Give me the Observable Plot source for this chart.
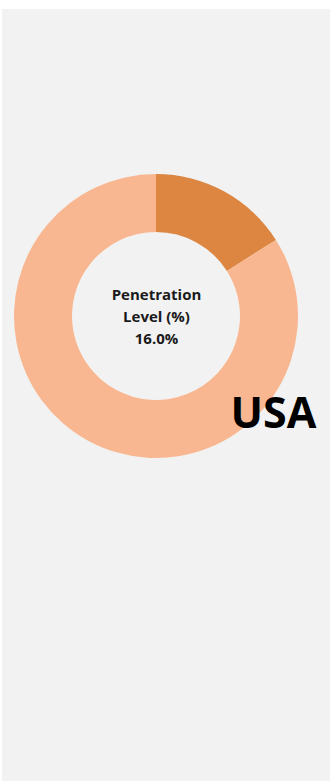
<!DOCTYPE html>
<html>
<head>
<meta charset="utf-8">
<script src="https://cdn.jsdelivr.net/npm/d3@7"></script>
<script src="https://cdn.jsdelivr.net/npm/@observablehq/plot@0.6"></script>
<style>
  html, body { margin: 0; padding: 0; background: #ffffff; }
  #panel { position: absolute; left: 2px; top: 9px; width: 328px; height: 772px; background: #f2f2f2; overflow: hidden; }
  #panel svg { display: block; background: transparent; }
</style>
</head>
<body>
<div id="panel"></div>
<script>
const categories = ["Penetrated", "Not penetrated"];
const values = [16.0, 84.0];
const colors = ["#dc8641", "#f9b791"];
const country = "USA";
const centerLines = ["Penetration", "Level (%)", "16.0%"];

const W = 328, H = 772;
const cx = 154, cy = 307, rOuter = 142, rInner = 84;

const slices = d3.pie().sort(null).value(d => d.value)(
  categories.map((c, i) => ({category: c, value: values[i]}))
);
const sliceData = slices.map(s => ({category: s.data.category, value: s.data.value, startAngle: s.startAngle, endAngle: s.endAngle}));

const arcMark = (index, scales, values_, dims) => {
  const arc = d3.arc().innerRadius(rInner).outerRadius(rOuter);
  const g = d3.create("svg:g")
    .attr("transform", `translate(${scales.x(cx)},${scales.y(cy)})`);
  g.selectAll("path").data(sliceData).join("path")
    .attr("d", d => arc(d))
    .attr("fill", d => scales.color(d.category));
  return g.node();
};

const labelData = centerLines.map((t, i) => ({text: t, i}));

const chart = Plot.plot({
  width: W,
  height: H,
  margin: 0,
  style: {background: "transparent"},
  x: {domain: [0, W], range: [0, W], axis: null},
  y: {domain: [0, H], range: [0, H], axis: null},
  color: {domain: categories, range: colors},
  marks: [
    arcMark,
    Plot.text(labelData, {
      x: () => cx,
      y: d => cy - 21 + d.i * 22,
      text: "text",
      fontFamily: "Open Sans",
      fontWeight: "bold",
      fontSize: 15,
      fill: "#1a1a1a",
      textAnchor: "middle",
      lineAnchor: "middle"
    }),
    Plot.text([country], {
      x: () => 271,
      y: () => 418,
      text: d => d,
      fontFamily: "Open Sans",
      fontWeight: "bold",
      fontSize: 43,
      fill: "#000000",
      textAnchor: "middle",
      lineAnchor: "bottom"
    })
  ]
});
document.getElementById("panel").appendChild(chart);
</script>
</body>
</html>
